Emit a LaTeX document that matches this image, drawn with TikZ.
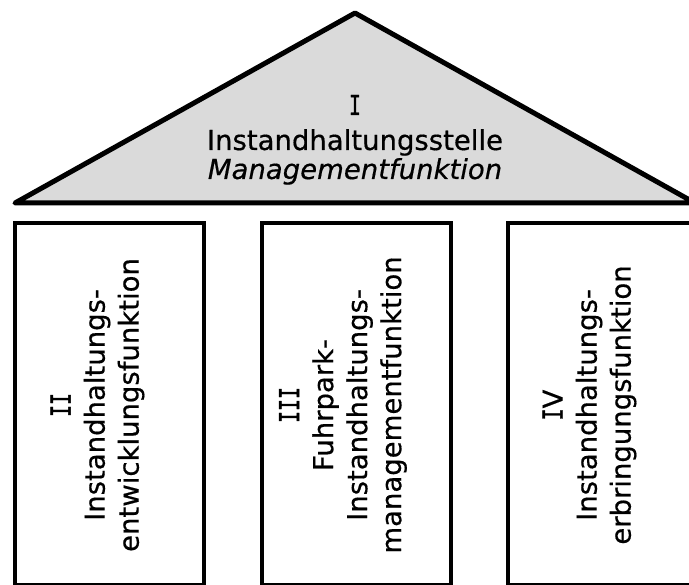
\documentclass[tikz,border=0pt]{standalone}
\usepackage{graphicx}
\usepackage{fontspec}
\setmainfont[FakeBold=0.5]{DejaVu Sans}
\newfontfamily\romfont[FakeBold=1.2]{DejaVu Sans Mono}
\newcommand\RomI{\mbox{\romfont\scalebox{0.72}[1]{I}}}
\definecolor{roofgray}{HTML}{DADADA}
\begin{document}
\begin{tikzpicture}[x=1pt,y=-1pt,
  roof/.style={draw=black, fill=roofgray, line width=5pt, line join=round},
  pillar/.style={draw=black, fill=white, line width=4.5pt},
  rooftext/.style={font=\fontsize{27.5}{34}\selectfont, inner sep=0pt, anchor=base},
  pillartext/.style={font=\fontsize{27.5}{34}\selectfont, align=center, rotate=90, inner sep=0pt, anchor=center}]
\useasboundingbox (0,0) rectangle (689,585);
\clip (0,0) rectangle (689,585);
% roof
\draw[roof] (15,203) -- (355,13) -- (695,203) -- cycle;
\node[rooftext] (roofnum) at (355,115) {\RomI};
\node[rooftext] (rooftitle) at (355,150) {Instandhaltungsstelle};
\node[rooftext] (roofsub) at (355,179) {\itshape Managementfunktion};
% pillars
\draw[pillar] (15,223) rectangle (204,585);
\draw[pillar] (262,223) rectangle (451,585);
\draw[pillar] (508,223) rectangle (697,585);
\node[pillartext] (p2) at (97.5,405) {\RomI\RomI\\Instandhaltungs-\\entwicklungsfunktion};
\node[pillartext] (p3) at (343,405) {\RomI\RomI\RomI\\Fuhrpark-\\Instandhaltungs-\\managementfunktion};
\node[pillartext] (p4) at (589.5,405) {\RomI V\\Instandhaltungs-\\erbringungsfunktion};
\end{tikzpicture}
\end{document}
